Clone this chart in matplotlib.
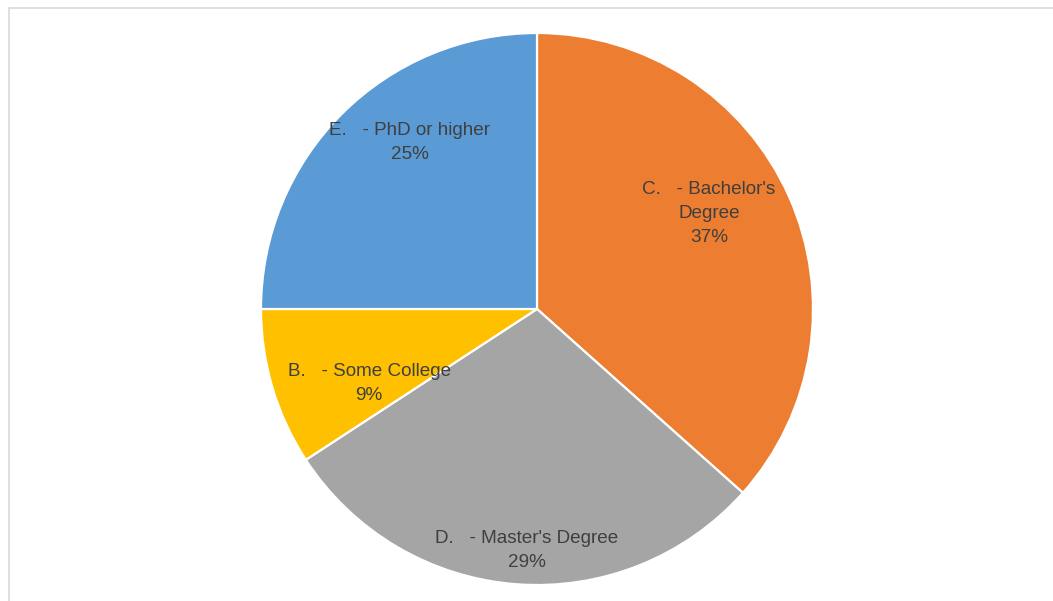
import numpy as np
import matplotlib
matplotlib.use('Agg')
import matplotlib.pyplot as plt
import matplotlib.transforms as mtransforms
from matplotlib.patches import Rectangle

plt.rcParams['font.family'] = ['Liberation Sans', 'DejaVu Sans']

# data (clockwise from 12 o'clock)
labels = ["C.   - Bachelor's\nDegree", "D.   - Master's Degree", "B.   - Some College", "E.   - PhD or higher"]
shares = [36.6, 29.2, 9.2, 25.0]
colors = ['#ED7D31', '#A5A5A5', '#FFC000', '#5B9BD5']
# label placement (angle in deg, radius as fraction of pie radius) - best-fit style
label_ang = [30, -92.4, 202.8, 126.8]
label_rad = [0.72, 0.86, 0.66, 0.77]

W, H = 1053, 601
fig = plt.figure(figsize=(W / 100, H / 100), dpi=100)
fig.patch.set_facecolor('white')

# chart frame (cut off on right/bottom)
fig.patches.append(Rectangle((8.5 / W, -0.1), 1.2, (H - 7.5) / H + 0.1, transform=fig.transFigure,
                             fill=False, edgecolor='#d9d9d9', linewidth=1.2))

cx, cy, r = 537, 601 - 309, 276
ax = fig.add_axes([(cx - r) / W, (cy - r) / H, 2 * r / W, 2 * r / H])
ax.pie(shares, colors=colors, startangle=90, counterclock=False, radius=1,
       wedgeprops=dict(edgecolor='white', linewidth=1.6))
ax.set_xlim(-1, 1)
ax.set_ylim(-1, 1)
ax.set_aspect('equal')
ax.axis('off')

shift = ax.transData + mtransforms.ScaledTranslation(0, -4 / 100, fig.dpi_scale_trans)
for lab, s, a, rr in zip(labels, shares, label_ang, label_rad):
    t = np.deg2rad(a)
    ax.text(rr * np.cos(t), rr * np.sin(t), "%s\n%d%%" % (lab, round(s)), ha='center', va='center',
            fontsize=13.6, color='#3f3f3f', linespacing=1.55, transform=shift)

fig.savefig('out.png', dpi=100)
